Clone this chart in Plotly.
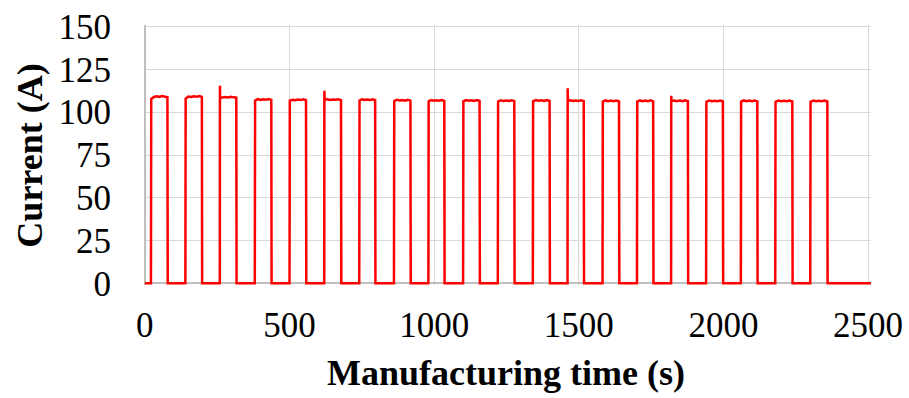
import numpy as np
import plotly.graph_objects as go

# ---- data ----
pulse_on = [21, 140, 259, 380, 500, 620, 741, 861, 980, 1100,
            1220, 1341, 1461, 1582, 1701, 1819, 1940, 2060, 2179, 2300]
pulse_off = [79, 198, 317, 438, 558, 679, 797, 919, 1036, 1158,
             1278, 1400, 1518, 1640, 1758, 1878, 1999, 2118, 2239, 2360]
# spike at pulse start (None = no spike)
pulse_spike = [None, None, 115.5, None, None, 112.5, None, None, None, None,
               None, None, 114.0, None, None, 109.6, None, None, None, None]
# plateau profile (current, A) along each pulse top
pulse_top = [
    [107.8, 108.9, 109.3, 109.0, 109.5, 109.2, 108.8],
    [108.0, 109.2, 108.9, 109.3, 109.0, 109.4, 108.9],
    [108.3, 108.7, 108.9, 108.6, 109.0, 108.7, 108.5],
    [106.8, 107.7, 107.2, 107.6, 107.3, 107.7, 107.2],
    [106.8, 107.3, 107.0, 107.4, 107.1, 107.5, 107.0],
    [107.3, 107.6, 107.2, 107.5, 107.3, 107.6, 107.1],
    [106.9, 107.6, 107.2, 107.4, 107.1, 107.5, 107.0],
    [106.5, 107.3, 106.9, 107.2, 106.8, 107.3, 106.8],
    [106.4, 107.1, 106.7, 107.0, 106.7, 107.1, 106.6],
    [106.4, 107.1, 106.7, 107.0, 106.6, 107.1, 106.6],
    [106.3, 107.0, 106.6, 106.9, 106.6, 107.0, 106.5],
    [106.4, 107.1, 106.7, 107.0, 106.6, 107.1, 106.6],
    [106.5, 107.0, 106.6, 106.9, 106.6, 107.0, 106.5],
    [106.2, 106.9, 106.5, 106.8, 106.5, 106.9, 106.4],
    [106.2, 106.9, 106.5, 106.8, 106.5, 107.0, 106.4],
    [106.6, 106.9, 106.5, 106.8, 106.4, 106.9, 106.4],
    [106.1, 106.8, 106.4, 106.7, 106.4, 106.8, 106.3],
    [106.2, 106.9, 106.5, 106.8, 106.5, 106.9, 106.4],
    [106.1, 106.8, 106.4, 106.7, 106.4, 106.8, 106.3],
    [106.1, 106.8, 106.4, 106.7, 106.4, 106.8, 106.3],
]
t_start = 0
t_end = 2510
x_ticks = [0, 500, 1000, 1500, 2000, 2500]
y_ticks = [0, 25, 50, 75, 100, 125, 150]

# ---- build the current trace from the pulse table ----
t = [t_start]
i_a = [0.0]
for on, off, spike, top in zip(pulse_on, pulse_off, pulse_spike, pulse_top):
    t.append(on)
    i_a.append(0.0)
    if spike is not None:
        t += [on + 0.5, on + 1.5]
        i_a += [spike, top[0]]
    ts = np.linspace(on + 1, off - 1, len(top))
    t += list(ts)
    i_a += list(top)
    t.append(off)
    i_a.append(0.0)
t.append(t_end)
i_a.append(0.0)

FONT = "Liberation Serif, Times New Roman, serif"
GRID = "#d9d9d9"
AXIS = "#bfbfbf"

fig = go.Figure()
fig.add_trace(go.Scatter(x=t, y=i_a, mode="lines",
                         line=dict(color="#ff0000", width=2.5),
                         showlegend=False, hoverinfo="skip"))

fig.update_layout(
    width=909, height=398,
    margin=dict(l=143.6, r=38.1, t=25.3, b=112.8, autoexpand=False),
    paper_bgcolor="white", plot_bgcolor="white",
    font=dict(family=FONT, color="black", size=35),
    xaxis=dict(range=[-3, 2510], tickvals=x_ticks,
               ticktext=[str(v) for v in x_ticks], automargin=False,
               showgrid=True, gridcolor=GRID, gridwidth=1,
               zeroline=True, zerolinecolor=AXIS, zerolinewidth=1.5,
               showline=False, ticks="", ticklabelstandoff=16,
               tickfont=dict(family=FONT, size=35, color="black")),
    yaxis=dict(range=[-1, 151], tickvals=y_ticks,
               ticktext=[str(v) for v in y_ticks], automargin=False,
               showgrid=True, gridcolor=GRID, gridwidth=1,
               zeroline=True, zerolinecolor=AXIS, zerolinewidth=1.5,
               showline=False, ticks="", ticklabelstandoff=32,
               tickfont=dict(family=FONT, size=35, color="black")),
    annotations=[
        dict(text="<b>Manufacturing time (s)</b>", xref="paper", yref="paper",
             x=0.498, y=-0.34, xanchor="center", yanchor="middle",
             showarrow=False, font=dict(family=FONT, size=36, color="black")),
        dict(text="<b>Current (A)</b>", xref="paper", yref="paper",
             x=-0.157, y=0.497, xanchor="center", yanchor="middle",
             textangle=-90, showarrow=False,
             font=dict(family=FONT, size=36, color="black")),
    ],
)

fig.write_html(
    "out.html",
    config={"displayModeBar": False},
    post_script=["document.body.style.margin='0px';"
                 "document.body.style.overflow='hidden';"],
)
